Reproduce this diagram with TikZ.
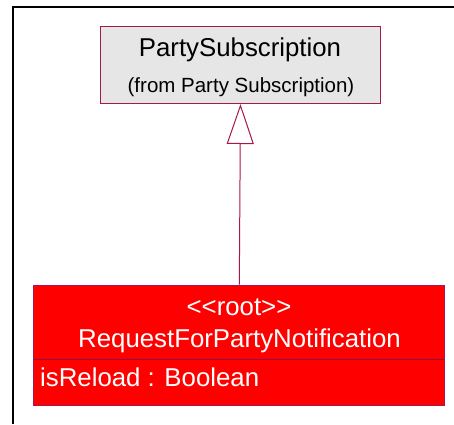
\documentclass[tikz,border=0pt]{standalone}
\usepackage{fontspec}
\setmainfont{Liberation Sans}[Ligatures=TeXOff]
\usetikzlibrary{arrows.meta}
\definecolor{umlborder}{RGB}{168,24,76}
\definecolor{umldivider}{RGB}{140,16,60}
\definecolor{umlgray}{RGB}{230,230,230}
\definecolor{umlred}{RGB}{255,0,0}
\tikzset{
  classbox/.style={draw=umlborder, line width=1pt, rectangle, inner sep=0pt},
  bigtext/.style={font=\fontsize{25.8}{30}\selectfont, inner sep=0pt, anchor=base},
  smalltext/.style={font=\fontsize{20.5}{24}\selectfont, inner sep=0pt, anchor=base},
}
\begin{document}
\begin{tikzpicture}[x=1pt,y=-1pt]
\useasboundingbox (0,0) rectangle (454,424);
% outer frame
\draw[line width=2pt] (13,424) -- (13,6.7) -- (454,6.7);
% parent class
\node[classbox, fill=umlgray, minimum width=280pt, minimum height=77.3pt, anchor=north west] (parent) at (100,25.7) {};
\node[bigtext] (ptitle) at (240,56) {PartySubscription};
\node[smalltext] (pfrom) at (241,92.5) {(from Party Subscription)};
% child class
\node[classbox, fill=umlred, minimum width=411pt, minimum height=120.3pt, anchor=north west] (child) at (33.3,284.7) {};
\coordinate (divl) at (33.3,359.3);
\coordinate (divr) at (444.3,359.3);
\draw[umldivider, line width=1pt] (divl) -- (divr);
\node[bigtext, text=white] (stereo) at (239,315) {<<root>>};
\node[bigtext, text=white] (cname) at (239.5,347.3) {RequestForPartyNotification};
\node[bigtext, text=white, anchor=base west] (attr) at (40,386.7) {isReload : Boolean};
% generalization
\draw[umlborder, line width=1pt, -{Triangle[open, fill=white, length=40pt, width=27pt]}] (child.north) -- (parent.south);
\end{tikzpicture}
\end{document}
